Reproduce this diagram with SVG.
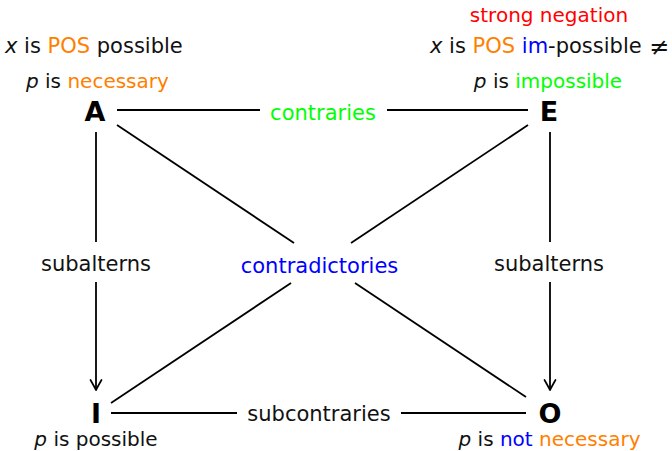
<svg xmlns="http://www.w3.org/2000/svg" width="672" height="451" viewBox="0 0 672 451">
<style>
.t{font-family:"DejaVu Sans",sans-serif;font-size:20px;fill:#111}
.t2{font-family:"DejaVu Sans",sans-serif;font-size:21px;fill:#111}
.lab{font-family:"DejaVu Sans",sans-serif;font-size:21px;fill:#111;text-anchor:middle}
.node{font-family:"DejaVu Sans",sans-serif;font-size:27px;font-weight:bold;fill:#000;text-anchor:middle}
.ln{stroke:#000;stroke-width:1.8;fill:none}
.it{font-style:italic}
.or{fill:#ff8000}
.gr{fill:#00ff00}
.bl{fill:#0000ff}
.rd{fill:#ff0000}
</style>
<defs>
<marker id="arr" markerUnits="userSpaceOnUse" markerWidth="16" markerHeight="16" viewBox="-13 -8 16 16" refX="0" refY="0" orient="auto">
<path d="M-10,-5.5 Q-3,-1.5 0,0 Q-3,1.5 -10,5.5" stroke="#000" stroke-width="1.7" fill="none" stroke-linecap="round" stroke-linejoin="round"/>
</marker>
</defs>
<g id="connectors">
<line class="ln" x1="117" y1="110" x2="260" y2="110"/>
<line class="ln" x1="387" y1="110" x2="528" y2="110"/>
<line class="ln" x1="111" y1="413" x2="237" y2="413"/>
<line class="ln" x1="401" y1="413" x2="526" y2="413"/>
<line class="ln" x1="117" y1="125" x2="294" y2="243"/>
<line class="ln" x1="355" y1="283" x2="526" y2="397"/>
<line class="ln" x1="528" y1="125" x2="351" y2="243"/>
<line class="ln" x1="291" y1="283" x2="111" y2="403"/>
<line class="ln" x1="96" y1="132" x2="96" y2="242"/>
<line class="ln" x1="96" y1="282" x2="96" y2="390" marker-end="url(#arr)"/>
<line class="ln" x1="550" y1="132" x2="550" y2="242"/>
<line class="ln" x1="550" y1="282" x2="550" y2="390" marker-end="url(#arr)"/>
<text class="lab gr" x="323" y="120">contraries</text>
<text class="lab" x="319" y="421">subcontraries</text>
<text class="lab" x="96" y="271">subalterns</text>
<text class="lab" x="549" y="271">subalterns</text>
<text class="lab bl" x="319.5" y="273">contradictories</text>
</g>
<g id="node-A">
<text class="node" x="95" y="121">A</text>
<text class="t2" x="5" y="53"><tspan class="it">x</tspan> is <tspan class="or">POS</tspan> possible</text>
<text class="t" x="26" y="88"><tspan class="it">p</tspan> is <tspan class="or">necessary</tspan></text>
</g>
<g id="node-E">
<text class="node" x="549" y="121">E</text>
<text class="t rd" x="549" y="22" text-anchor="middle">strong negation</text>
<text class="t2" x="430" y="53"><tspan class="it">x</tspan> is <tspan class="or">POS</tspan> <tspan class="bl">im</tspan>-possible</text>
<text class="t2" x="669" y="55" text-anchor="end" style="font-size:24px">≠</text>
<text class="t" x="548" y="88" text-anchor="middle"><tspan class="it">p</tspan> is <tspan class="gr">impossible</tspan></text>
</g>
<g id="node-I">
<text class="node" x="96" y="423">I</text>
<text class="t" x="96" y="446" text-anchor="middle"><tspan class="it">p</tspan> is possible</text>
</g>
<g id="node-O">
<text class="node" x="550" y="423">O</text>
<text class="t" x="549.5" y="446" text-anchor="middle"><tspan class="it">p</tspan> is <tspan class="bl">not</tspan> <tspan class="or">necessary</tspan></text>
</g>
</svg>
